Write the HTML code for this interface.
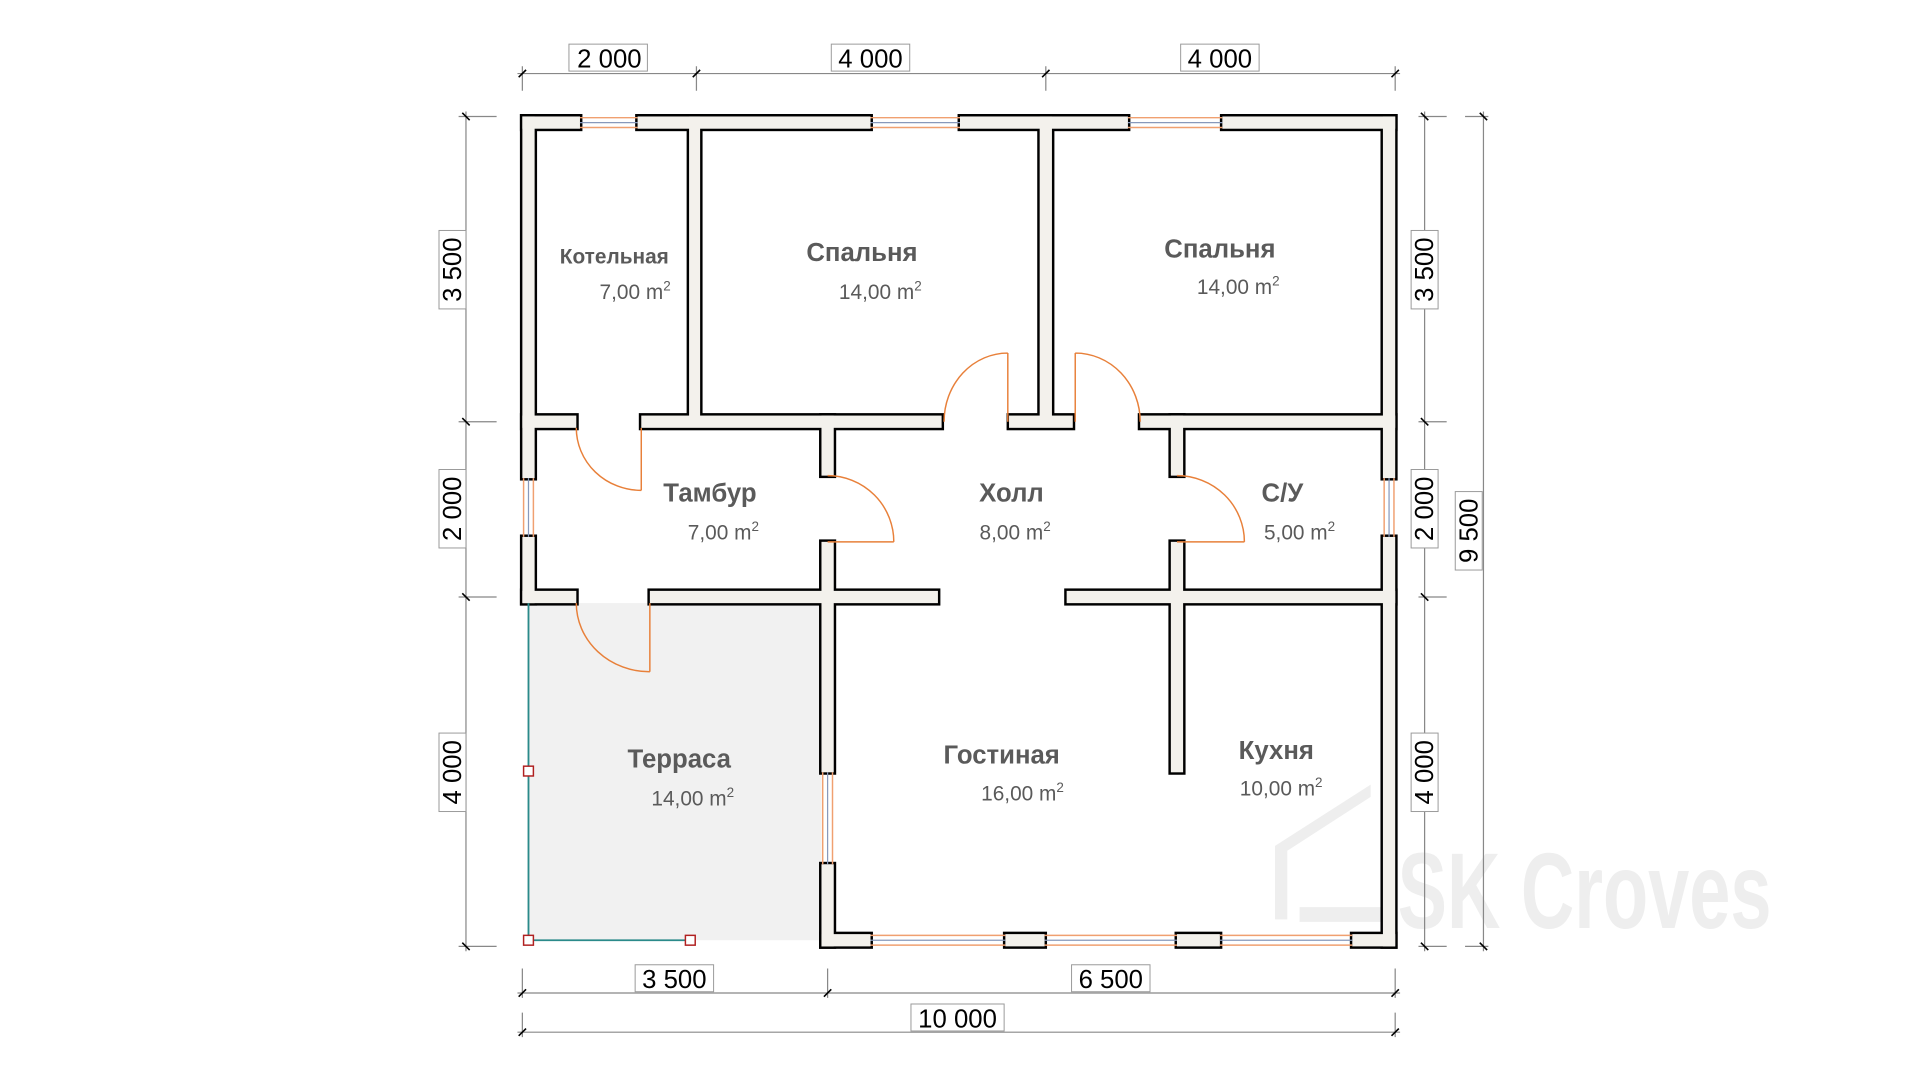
<!DOCTYPE html>
<html><head><meta charset="utf-8"><style>html,body{margin:0;padding:0;background:#fff;width:1920px;height:1080px;overflow:hidden}svg{display:block}</style></head><body>
<svg width="1920" height="1080" viewBox="0 0 1566 881" xmlns="http://www.w3.org/2000/svg" font-family="Liberation Sans, sans-serif">
<!-- terrace -->
<rect x="431" y="492" width="239" height="275" fill="#f1f1f1"/>
<!-- watermark -->
<g fill="#eeeeee">
<polygon points="1040,690 1118,640 1118,650 1050,694 1050,750 1040,750"/>
<text x="1140" y="757" font-size="88" font-weight="bold" textLength="305" lengthAdjust="spacingAndGlyphs">SK Croves</text>
<rect x="1060" y="740" width="70" height="12"/>
</g>
<g id="walls">
<g stroke="#000" stroke-width="4" fill="#000">
<rect x="426" y="95" width="47" height="10"/><rect x="520" y="95" width="190" height="10"/><rect x="783" y="95" width="137" height="10"/><rect x="997" y="95" width="141" height="10"/>
<rect x="426" y="95" width="10" height="295"/><rect x="426" y="438" width="10" height="54"/>
<rect x="1128" y="95" width="10" height="295"/><rect x="1128" y="438" width="10" height="334"/>
<rect x="670" y="762" width="40" height="10"/><rect x="820" y="762" width="32" height="10"/><rect x="960" y="762" width="35" height="10"/><rect x="1103" y="762" width="35" height="10"/>
<rect x="562" y="95" width="9" height="249"/><rect x="848" y="95" width="10" height="249"/>
<rect x="426" y="339" width="44" height="10"/><rect x="523" y="339" width="245" height="10"/><rect x="823" y="339" width="52" height="10"/><rect x="930" y="339" width="208" height="10"/>
<rect x="670" y="339" width="10" height="49"/><rect x="670" y="442" width="10" height="188"/><rect x="670" y="705" width="10" height="67"/>
<rect x="426" y="482" width="44" height="10"/><rect x="530" y="482" width="235" height="10"/><rect x="870" y="482" width="268" height="10"/>
<rect x="955" y="339" width="10" height="49"/><rect x="955" y="442" width="10" height="188"/>
</g>
<g fill="#f3f1ec">
<rect x="426" y="95" width="47" height="10"/><rect x="520" y="95" width="190" height="10"/><rect x="783" y="95" width="137" height="10"/><rect x="997" y="95" width="141" height="10"/>
<rect x="426" y="95" width="10" height="295"/><rect x="426" y="438" width="10" height="54"/>
<rect x="1128" y="95" width="10" height="295"/><rect x="1128" y="438" width="10" height="334"/>
<rect x="670" y="762" width="40" height="10"/><rect x="820" y="762" width="32" height="10"/><rect x="960" y="762" width="35" height="10"/><rect x="1103" y="762" width="35" height="10"/>
<rect x="562" y="95" width="9" height="249"/><rect x="848" y="95" width="10" height="249"/>
<rect x="426" y="339" width="44" height="10"/><rect x="523" y="339" width="245" height="10"/><rect x="823" y="339" width="52" height="10"/><rect x="930" y="339" width="208" height="10"/>
<rect x="670" y="339" width="10" height="49"/><rect x="670" y="442" width="10" height="188"/><rect x="670" y="705" width="10" height="67"/>
<rect x="426" y="482" width="44" height="10"/><rect x="530" y="482" width="235" height="10"/><rect x="870" y="482" width="268" height="10"/>
<rect x="955" y="339" width="10" height="49"/><rect x="955" y="442" width="10" height="188"/>
</g>
</g>
<!-- windows -->
<g stroke="#f0a070" stroke-width="1.2" fill="none">
<path d="M473 96H520M473 104H520M710 96H783M710 104H783M920 96H997M920 104H997"/>
<path d="M710 763H820M710 771H820M852 763H960M852 771H960M995 763H1103M995 771H1103"/>
<path d="M427 390V438M435 390V438M1129 390V438M1137 390V438M671 630V705M679 630V705"/>
</g>
<g stroke="#8899bb" stroke-width="1" fill="none">
<path d="M473 100H520M710 100H783M920 100H997M710 767H820M852 767H960M995 767H1103M431 390V438M1133 390V438M675 630V705"/>
</g>
<!-- doors -->
<g stroke="#e8803a" stroke-width="1.2" fill="none">
<path d="M523 349V400M470 349A53 51 0 0 0 523 400"/>
<path d="M822 344V288M770 344A52 56 0 0 1 822 288"/>
<path d="M877 344V288M930 344A53 56 0 0 0 877 288"/>
<path d="M675 442H729M675 388A54 54 0 0 1 729 442"/>
<path d="M960 442H1015M960 388A55 54 0 0 1 1015 442"/>
<path d="M530 492V548M470 492A60 56 0 0 0 530 548"/>
</g>
<!-- terrace rail -->
<g stroke="#2a8a8a" stroke-width="1.5" fill="none"><path d="M431 492V767H563"/></g>
<g stroke="#b02020" stroke-width="1.2" fill="#fff">
<rect x="427" y="625" width="8" height="8"/><rect x="427" y="763" width="8" height="8"/><rect x="559" y="763" width="8" height="8"/>
</g>
<!-- dimensions -->
<g stroke="#888" stroke-width="1" fill="none">
<path d="M422 60H1142M426 54V74M568 54V74M853 54V74M1138 54V74"/>
<path d="M380 91V776M374 95H405M374 344H405M374 487H405M374 772H405"/>
<path d="M1162 91V776M1157 95H1180M1157 344H1180M1157 487H1180M1157 772H1180"/>
<path d="M1210 91V776M1195 95H1214M1195 772H1214"/>
<path d="M422 810H1142M426 790V814M675 790V814M1138 790V814"/>
<path d="M422 842H1142M426 826V846M1138 826V846"/>
</g>
<g stroke="#000" stroke-width="1.3">
<path d="M423 63L429 57M565 63L571 57M850 63L856 57M1135 63L1141 57"/>
<path d="M377 92L383 98M377 341L383 347M377 484L383 490M377 769L383 775"/>
<path d="M1159 92L1165 98M1159 341L1165 347M1159 484L1165 490M1159 769L1165 775M1207 92L1213 98M1207 769L1213 775"/>
<path d="M423 813L429 807M672 813L678 807M1135 813L1141 807M423 845L429 839M1135 845L1141 839"/>
</g>
<g font-size="21" fill="#000" text-anchor="middle">
<g stroke="#999" stroke-width="0.8" fill="#fff">
<rect x="464" y="36" width="64" height="22"/><rect x="678" y="36" width="64" height="22"/><rect x="963" y="36" width="64" height="22"/>
<rect x="518" y="787" width="64" height="22"/><rect x="874" y="787" width="64" height="22"/><rect x="743" y="819" width="76" height="22"/>
<rect x="358" y="188" width="22" height="64"/><rect x="358" y="383" width="22" height="64"/><rect x="358" y="598" width="22" height="64"/>
<rect x="1151" y="188" width="22" height="64"/><rect x="1151" y="383" width="22" height="64"/><rect x="1151" y="598" width="22" height="64"/>
<rect x="1187" y="401" width="22" height="64"/>
</g>
<text x="497" y="55">2 000</text><text x="710" y="55">4 000</text><text x="995" y="55">4 000</text>
<text x="550" y="806">3 500</text><text x="906" y="806">6 500</text><text x="781" y="838">10 000</text>
<text transform="translate(376,220) rotate(-90)">3 500</text>
<text transform="translate(376,415) rotate(-90)">2 000</text>
<text transform="translate(376,630) rotate(-90)">4 000</text>
<text transform="translate(1169,220) rotate(-90)">3 500</text>
<text transform="translate(1169,415) rotate(-90)">2 000</text>
<text transform="translate(1169,630) rotate(-90)">4 000</text>
<text transform="translate(1205,433) rotate(-90)">9 500</text>
</g>
<!-- rooms -->
<g fill="#5a5a5a" text-anchor="middle">
<g font-weight="bold" font-size="21">
<text x="501" y="215" font-size="17">Котельная</text>
<text x="703" y="213">Спальня</text>
<text x="995" y="210">Спальня</text>
<text x="579" y="409">Тамбур</text>
<text x="825" y="409">Холл</text>
<text x="1046" y="409">С/У</text>
<text x="554" y="626">Терраса</text>
<text x="817" y="623">Гостиная</text>
<text x="1041" y="619">Кухня</text>
</g>
<g font-size="17">
<text x="518" y="244">7,00 m<tspan font-size="11" dy="-7">2</tspan></text>
<text x="718" y="244">14,00 m<tspan font-size="11" dy="-7">2</tspan></text>
<text x="1010" y="240">14,00 m<tspan font-size="11" dy="-7">2</tspan></text>
<text x="590" y="440">7,00 m<tspan font-size="11" dy="-7">2</tspan></text>
<text x="828" y="440">8,00 m<tspan font-size="11" dy="-7">2</tspan></text>
<text x="1060" y="440">5,00 m<tspan font-size="11" dy="-7">2</tspan></text>
<text x="565" y="657">14,00 m<tspan font-size="11" dy="-7">2</tspan></text>
<text x="834" y="653">16,00 m<tspan font-size="11" dy="-7">2</tspan></text>
<text x="1045" y="649">10,00 m<tspan font-size="11" dy="-7">2</tspan></text>
</g>
</g>
</svg>
</body></html>
